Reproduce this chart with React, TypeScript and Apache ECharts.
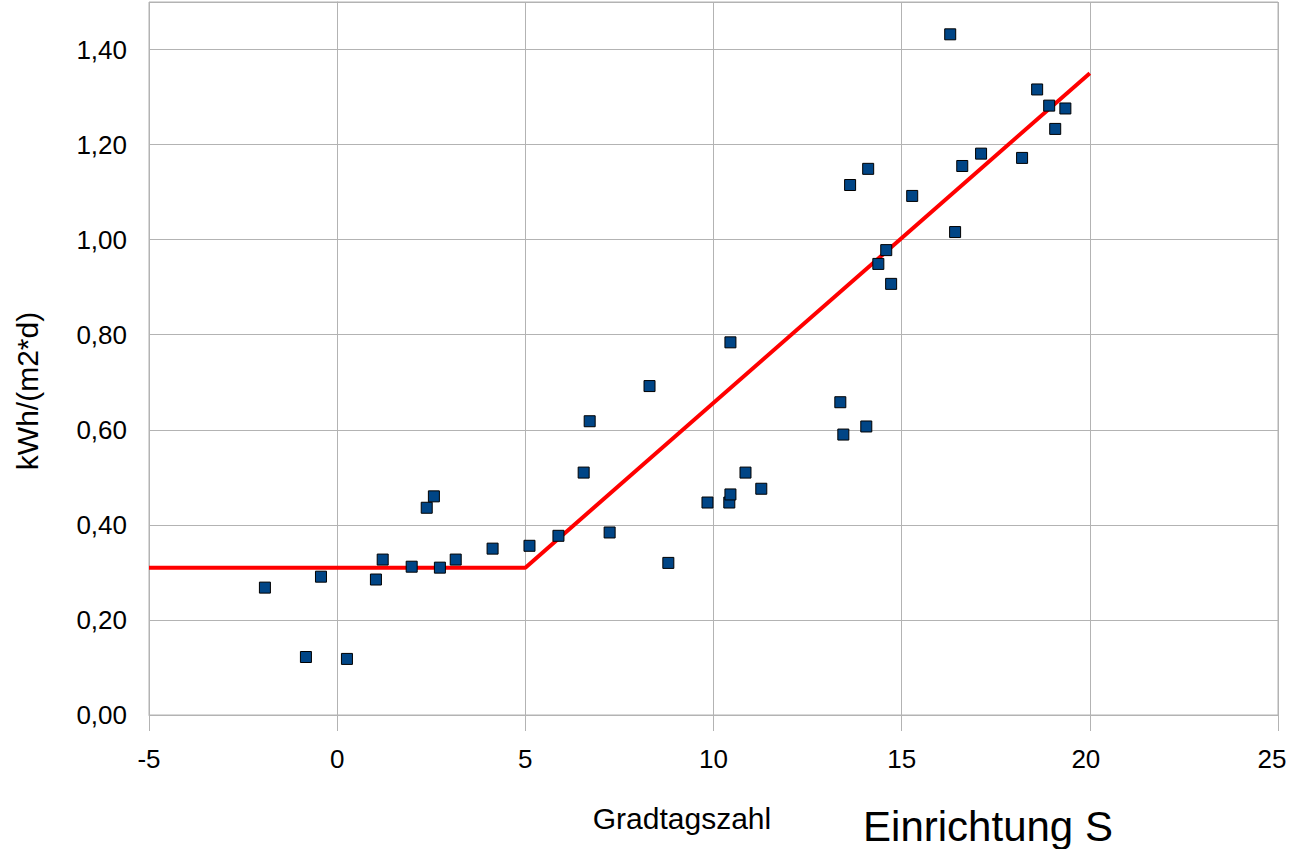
import React, { useEffect, useRef } from "react";
import * as echarts from "echarts";

const gradtagszahl = [
  -1.92, -0.83, -0.43, 0.26, 1.03, 1.21, 1.98, 2.38, 2.57, 2.73, 3.15, 4.13, 5.11, 5.88,
  6.55, 6.71, 7.24, 8.3, 8.8, 9.84, 10.42, 10.45, 10.45, 10.85, 11.27, 13.37, 13.45,
  14.06, 13.63, 14.11, 14.38, 14.59, 14.72, 15.28, 16.29, 16.42, 16.61, 17.11, 18.2,
  18.6, 18.92, 19.08, 19.35,
];
const verbrauch = [
  0.268, 0.122, 0.291, 0.118, 0.285, 0.327, 0.312, 0.436, 0.46, 0.31, 0.327, 0.35, 0.356,
  0.377, 0.51, 0.618, 0.384, 0.692, 0.32, 0.447, 0.447, 0.464, 0.784, 0.51, 0.476, 0.658,
  0.59, 0.607, 1.115, 1.149, 0.949, 0.978, 0.907, 1.092, 1.432, 1.016, 1.155, 1.181, 1.172,
  1.316, 1.282, 1.233, 1.276,
];
const modellX = [-5, 5, 20];
const modellY = [0.31, 0.31, 1.35];

const xTitle = "Gradtagszahl";
const yTitle = "kWh/(m2*d)";
const chartTitle = "Einrichtung S";

export default function App() {
  const ref = useRef<HTMLDivElement>(null);
  useEffect(() => {
    if (!ref.current) return;
    const chart = echarts.init(ref.current, undefined, { renderer: "svg" });
    const font = "Liberation Sans, Arial, sans-serif";
    const gridColor = "#b3b3b3";
    const labelBase = { fontFamily: font, fontSize: 26, color: "#000" };
    chart.setOption({
      animation: false,
      backgroundColor: "#ffffff",
      grid: {
        left: 149,
        right: 12,
        top: 2,
        bottom: 134,
        show: true,
        borderColor: gridColor,
        borderWidth: 1,
        outerBoundsMode: "none",
        containLabel: false,
      },
      xAxis: {
        type: "value",
        min: -5,
        max: 25,
        interval: 5,
        axisLine: { onZero: false, lineStyle: { color: gridColor, width: 1 } },
        axisTick: { show: true, length: 16, lineStyle: { color: gridColor } },
        splitLine: { show: true, lineStyle: { color: gridColor, width: 1 } },
        axisLabel: {
          ...labelBase,
          margin: 31,
          showMaxLabel: true,
          showMinLabel: true,
          hideOverlap: false,
          formatter: (v: number) =>
            v === 25 ? "{s|25}" : v === 20 ? "{t|20}" : String(v),
          rich: {
            s: { ...labelBase, padding: [0, 12, 0, 0] },
            t: { ...labelBase, padding: [0, 8, 0, 0] },
          },
        },
      },
      yAxis: {
        type: "value",
        min: 0,
        max: 1.5,
        interval: 0.2,
        axisLine: { show: true, lineStyle: { color: gridColor, width: 1 } },
        axisTick: { show: true, length: 15, lineStyle: { color: gridColor } },
        splitLine: { show: true, lineStyle: { color: gridColor, width: 1 } },
        axisLabel: {
          ...labelBase,
          margin: 22,
          formatter: (v: number) =>
            Math.abs(v - 1.5) < 1e-9 ? "" : v.toFixed(2).replace(".", ","),
        },
      },
      series: [
        {
          type: "line",
          data: modellX.map((x, i) => [x, modellY[i]]),
          showSymbol: false,
          symbol: "none",
          lineStyle: { color: "#ff0000", width: 4 },
          z: 2,
        },
        {
          type: "scatter",
          data: gradtagszahl.map((x, i) => [x, verbrauch[i]]),
          symbol: "rect",
          symbolSize: 11,
          itemStyle: { color: "#004586", borderColor: "#000000", borderWidth: 1, opacity: 1 },
          z: 3,
        },
      ],
      graphic: [
        {
          type: "text",
          x: 682,
          y: 818,
          style: {
            text: xTitle,
            fontFamily: font,
            fontSize: 30,
            fill: "#000",
            align: "center",
            verticalAlign: "middle",
          },
        },
        {
          type: "text",
          x: 988,
          y: 826,
          style: {
            text: chartTitle,
            fontFamily: font,
            fontSize: 42,
            fill: "#000",
            align: "center",
            verticalAlign: "middle",
          },
        },
        {
          type: "text",
          x: 27,
          y: 391,
          rotation: Math.PI / 2,
          style: {
            text: yTitle,
            fontFamily: font,
            fontSize: 30,
            fill: "#000",
            align: "center",
            verticalAlign: "middle",
          },
        },
      ],
    });
    return () => chart.dispose();
  }, []);
  return (
    <div
      ref={ref}
      style={{ position: "absolute", left: 0, top: 0, width: 1290, height: 849 }}
    />
  );
}
